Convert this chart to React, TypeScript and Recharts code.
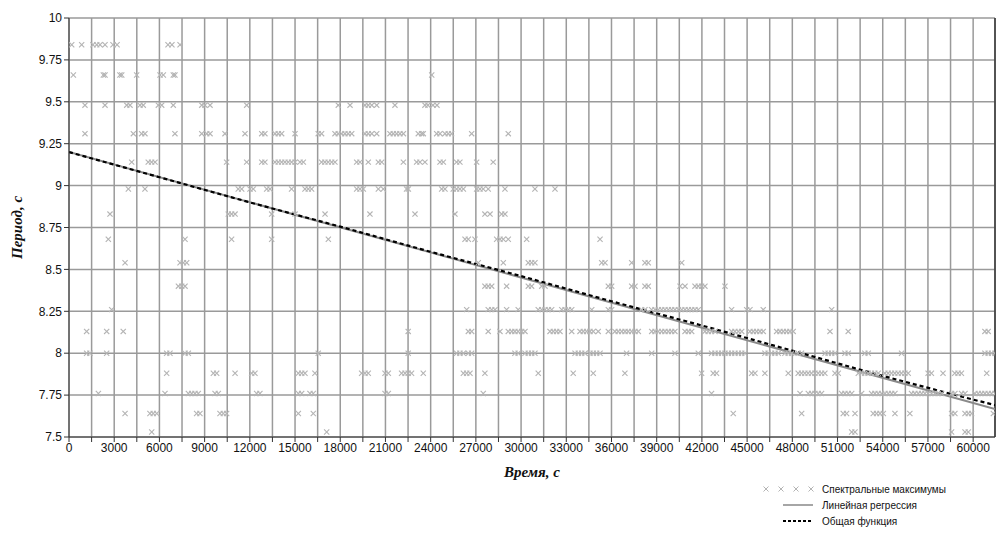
import React from 'react';
import {
  ComposedChart,
  Scatter,
  Line,
  XAxis,
  YAxis,
  CartesianGrid,
  Legend,
  ReferenceLine,
} from 'recharts';

// period levels of the spectral maxima (s) and the times (s) where each shows up
const levels = [9.84, 9.66, 9.48, 9.31, 9.14, 8.98, 8.83, 8.68, 8.54, 8.4, 8.26, 8.13, 8.0, 7.88, 7.76, 7.64, 7.53];

const t984 = [180, 840, 1590, 1840, 2060, 2390, 2920, 3190, 6570, 6830, 7370];
const t966 = [290, 2280, 2390, 3380, 3500, 4490, 6040, 6260, 6920, 7030, 24070];
const t948 = [1060, 2390, 3830, 4050, 4710, 4930, 5930, 6150, 6920, 8810, 9020, 9360, 11790, 17870, 18650, 19640, 19860, 20090, 20420, 21630, 23620, 23820, 24150, 24420];
const t931 = [1060, 4270, 4820, 5040, 7030, 8810, 9140, 9360, 10350, 11680, 12790, 13000, 13670, 13890, 14110, 15000, 16540, 16760, 17650, 17870, 18090, 18310, 18530, 18760, 19640, 19860, 20090, 20420, 21300, 21520, 21740, 21960, 22190, 23180, 23400, 23510, 24400, 24620, 24950, 25170, 25390, 26720, 29150];
const t914 = [4160, 5260, 5480, 5710, 10460, 11790, 12790, 13000, 13670, 13890, 14110, 14330, 14550, 14770, 15000, 15330, 15550, 16760, 16980, 17200, 17430, 17650, 19090, 19310, 19860, 20530, 20750, 22190, 23070, 23290, 23620, 24620, 24840, 25720, 25940, 27050, 28150];
const t898 = [3940, 5040, 11230, 11460, 12010, 12230, 13120, 13340, 14770, 15660, 15880, 16100, 19090, 19310, 19530, 20530, 20860, 22400, 22520, 24730, 24950, 25500, 25720, 25940, 26170, 27050, 27270, 27490, 27820, 28930, 30920, 32250];
const t883 = [2720, 10570, 10790, 11020, 13450, 15000, 16990, 19970, 22960, 25610, 27600, 27940, 28710, 28930];
const t868 = [2610, 7700, 10790, 13450, 17210, 26280, 26500, 26940, 28380, 28600, 28820, 29150, 30370, 35240];
const t854 = [3720, 7370, 7590, 7810, 27160, 28820, 30480, 30700, 30920, 35350, 35570, 37340, 38220, 38440, 40660];
const t840 = [7260, 7480, 7700, 27600, 27820, 28050, 29040, 30480, 30700, 31370, 31590, 35790, 36010, 37340, 37560, 38220, 38440, 40550, 40880, 41540, 41760, 41980, 42200, 43530];
const t826 = [2830, 26390, 27820, 28050, 28270, 29040, 29810, 31140, 31370, 31590, 31810, 32030, 32700, 32920, 33140, 33360, 34690, 35790, 36010, 38000, 38220, 38660, 38890, 39110, 39330, 39550, 39770, 39990, 40210, 40440, 40660, 40880, 41100, 41320, 41540, 41760, 43970, 44970, 45190, 46070, 50610];
const t813 = [1170, 2500, 3600, 22510, 26500, 26720, 27820, 28600, 29150, 29380, 29590, 29810, 30040, 30260, 31920, 32140, 32360, 32580, 33360, 33910, 34130, 34350, 34570, 34790, 35120, 35790, 36230, 36450, 36680, 36900, 37110, 37340, 37560, 37780, 38670, 38890, 39100, 39330, 39550, 39770, 39990, 40210, 40880, 41100, 41320, 42200, 42420, 42640, 42870, 43970, 44190, 44420, 44640, 45190, 45410, 45630, 45850, 46070, 46960, 47180, 47400, 47620, 47840, 48060, 50500, 51710, 60780, 61000];
const t800 = [1170, 1390, 2500, 6480, 6700, 7700, 7920, 16540, 22510, 25720, 25940, 26170, 26500, 26720, 29590, 29810, 30260, 30480, 30700, 30920, 33580, 33800, 34020, 34240, 34570, 34790, 35010, 35240, 37000, 38670, 40210, 41760, 42640, 42870, 43090, 43310, 43530, 43750, 43970, 44190, 44420, 44640, 44860, 46180, 46400, 46620, 46850, 47070, 47510, 47730, 47950, 48390, 48610, 50170, 50380, 50610, 50830, 51490, 51710, 52810, 53040, 55250, 60780, 61000, 61220, 61450];
const t788 = [6480, 9580, 9800, 11020, 12120, 12340, 15220, 15440, 15660, 16320, 19420, 19640, 19860, 20970, 21190, 22070, 22300, 22510, 22730, 23510, 26170, 26390, 26610, 27600, 31140, 33460, 34790, 36890, 41980, 42750, 42970, 45300, 45520, 46180, 47730, 48390, 48610, 48830, 49050, 49270, 49500, 49720, 49940, 50160, 50830, 51050, 52380, 52600, 52810, 53030, 53250, 53470, 53700, 54140, 54360, 54580, 54800, 55020, 55240, 55470, 55690, 57010, 57230, 58000, 58780, 59000, 59220, 60900];
const t776 = [1950, 6370, 7920, 8140, 8360, 8580, 9690, 9910, 12450, 12670, 15220, 15440, 15990, 16210, 20970, 21190, 27490, 42640, 48510, 49060, 49280, 49500, 49720, 49940, 51270, 51490, 51710, 51940, 52600, 53260, 53480, 53700, 53920, 54150, 54370, 54590, 54810, 55910, 56130, 56360, 56580, 56800, 57020, 57240, 57460, 57680, 57910, 58570, 58790, 59230, 59460, 60120, 60340, 60560, 60780, 61000, 61220, 61450];
const t764 = [3720, 5370, 5590, 5820, 8470, 8690, 10020, 10240, 10460, 15220, 16210, 44080, 48620, 51380, 51600, 52160, 53370, 53590, 53820, 54040, 54810, 55800, 58570, 58790, 59460, 59680, 59900, 61340];
const t753 = [5490, 17100, 51940, 52160, 58570, 59460, 59680];

const rowTimes = [t984, t966, t948, t931, t914, t898, t883, t868, t854, t840, t826, t813, t800, t788, t776, t764, t753];

// linear regression end points
const regT = [0, 61450];
const regP = [9.2, 7.667];

// "general function"
const funT = [0, 6000, 12000, 18000, 24000, 30000, 36000, 42000, 48000, 54000, 61450];
const funP = [9.2, 9.05, 8.9, 8.755, 8.605, 8.46, 8.31, 8.165, 8.015, 7.865, 7.69];

const xMax = 61450;
const xTicks = Array.from({ length: 41 }, (_, i) => i * 1500);
const yTicks = [7.5, 7.75, 8, 8.25, 8.5, 8.75, 9, 9.25, 9.5, 9.75, 10];

const maxima = rowTimes.flatMap((ts, i) => ts.map((t) => ({ t, p: levels[i] })));
const regression = regT.map((t, i) => ({ t, p: regP[i] }));
const general = funT.map((t, i) => ({ t, p: funP[i] }));

const MARK = '#b4b4b4';

const XMark = (props: any) => {
  const { cx, cy } = props;
  if (cx == null || cy == null) return null;
  const r = 2.6;
  return (
    <g stroke={MARK} strokeWidth={1.1}>
      <line x1={cx - r} y1={cy - r} x2={cx + r} y2={cy + r} />
      <line x1={cx - r} y1={cy + r} x2={cx + r} y2={cy - r} />
    </g>
  );
};

const LegendBox = () => (
  <div style={{ fontFamily: '"Liberation Sans", Arial, sans-serif', fontSize: 10, color: '#111' }}>
    {[
      { name: 'Спектральные максимумы', kind: 'x' },
      { name: 'Линейная регрессия', kind: 'line' },
      { name: 'Общая функция', kind: 'dash' },
    ].map((it) => (
      <div key={it.name} style={{ display: 'flex', alignItems: 'center', height: 16 }}>
        <svg width={58} height={10}>
          {it.kind === 'x' &&
            [8, 23, 38, 53].map((x) => (
              <g key={x} stroke={MARK} strokeWidth={1}>
                <line x1={x - 2.5} y1={2.5} x2={x + 2.5} y2={7.5} />
                <line x1={x - 2.5} y1={7.5} x2={x + 2.5} y2={2.5} />
              </g>
            ))}
          {it.kind === 'line' && <line x1={25} y1={5} x2={55} y2={5} stroke="#888" strokeWidth={1.5} />}
          {it.kind === 'dash' && (
            <line x1={25} y1={5} x2={55} y2={5} stroke="#000" strokeWidth={2} strokeDasharray="3 2" />
          )}
        </svg>
        <span style={{ marginLeft: 6 }}>{it.name}</span>
      </div>
    ))}
  </div>
);

export default function App() {
  return (
    <div style={{ position: 'absolute', left: 0, top: 0, width: 999, height: 539, background: '#fff' }}>
      <ComposedChart
        width={999}
        height={539}
        margin={{ top: 18, right: 4, left: 0, bottom: 72 }}
      >
        <CartesianGrid stroke="#9a9a9a" strokeWidth={1.5} horizontal vertical />
        <XAxis
          type="number"
          dataKey="t"
          domain={[0, xMax]}
          ticks={xTicks}
          interval={0}
          height={30}
          stroke="#333"
          tickSize={5}
          tickMargin={1}
          tick={{ fontSize: 12, fill: '#111', fontFamily: '"Liberation Sans", Arial, sans-serif' }}
          tickFormatter={(v: number) => (v % 3000 === 0 ? String(v) : '')}
          allowDataOverflow
          label={{
            content: (p: any) => {
              const vb = p.viewBox || { x: 69, y: 437, width: 926 };
              const x = vb.x + vb.width / 2;
              return (
                <text
                  x={x}
                  y={vb.y + 40}
                  textAnchor="middle"
                  fontFamily='"Liberation Serif", "Times New Roman", serif'
                  fontWeight="bold"
                  fontStyle="italic"
                  fontSize={15}
                  fill="#111"
                >
                  Время, с
                </text>
              );
            },
          }}
        />
        <YAxis
          type="number"
          dataKey="p"
          domain={[7.5, 10]}
          ticks={yTicks}
          interval={0}
          width={69}
          stroke="#333"
          tickSize={5}
          tickMargin={2}
          tick={{ fontSize: 12, fill: '#111', fontFamily: '"Liberation Sans", Arial, sans-serif' }}
          tickFormatter={(v: number) => String(v)}
          allowDataOverflow
          label={{
            content: (p: any) => {
              const vb = p.viewBox || { x: 0, y: 18, height: 419 };
              const x = vb.x + 22;
              const y = vb.y + vb.height / 2;
              return (
                <text
                  x={x}
                  y={y}
                  transform={`rotate(-90 ${x} ${y})`}
                  textAnchor="middle"
                  fontFamily='"Liberation Serif", "Times New Roman", serif'
                  fontWeight="bold"
                  fontStyle="italic"
                  fontSize={15}
                  fill="#111"
                >
                  Период, с
                </text>
              );
            },
          }}
        />
        <ReferenceLine x={xMax} stroke="#333" strokeWidth={1.5} />
        <Scatter
          name="Спектральные максимумы"
          data={maxima}
          shape={XMark}
          isAnimationActive={false}
        />
        <Line
          name="Линейная регрессия"
          data={regression}
          dataKey="p"
          type="linear"
          stroke="#8a8a8a"
          strokeWidth={2}
          dot={false}
          isAnimationActive={false}
        />
        <Line
          name="Общая функция"
          data={general}
          dataKey="p"
          type="monotone"
          stroke="#000"
          strokeWidth={2.2}
          strokeDasharray="4 3"
          dot={false}
          isAnimationActive={false}
        />
        <Legend
          layout="horizontal"
          verticalAlign="middle"
          align="center"
          content={() => <LegendBox />}
          wrapperStyle={{ left: 758, top: 481, width: 240, height: 52 }}
        />
      </ComposedChart>
    </div>
  );
}
